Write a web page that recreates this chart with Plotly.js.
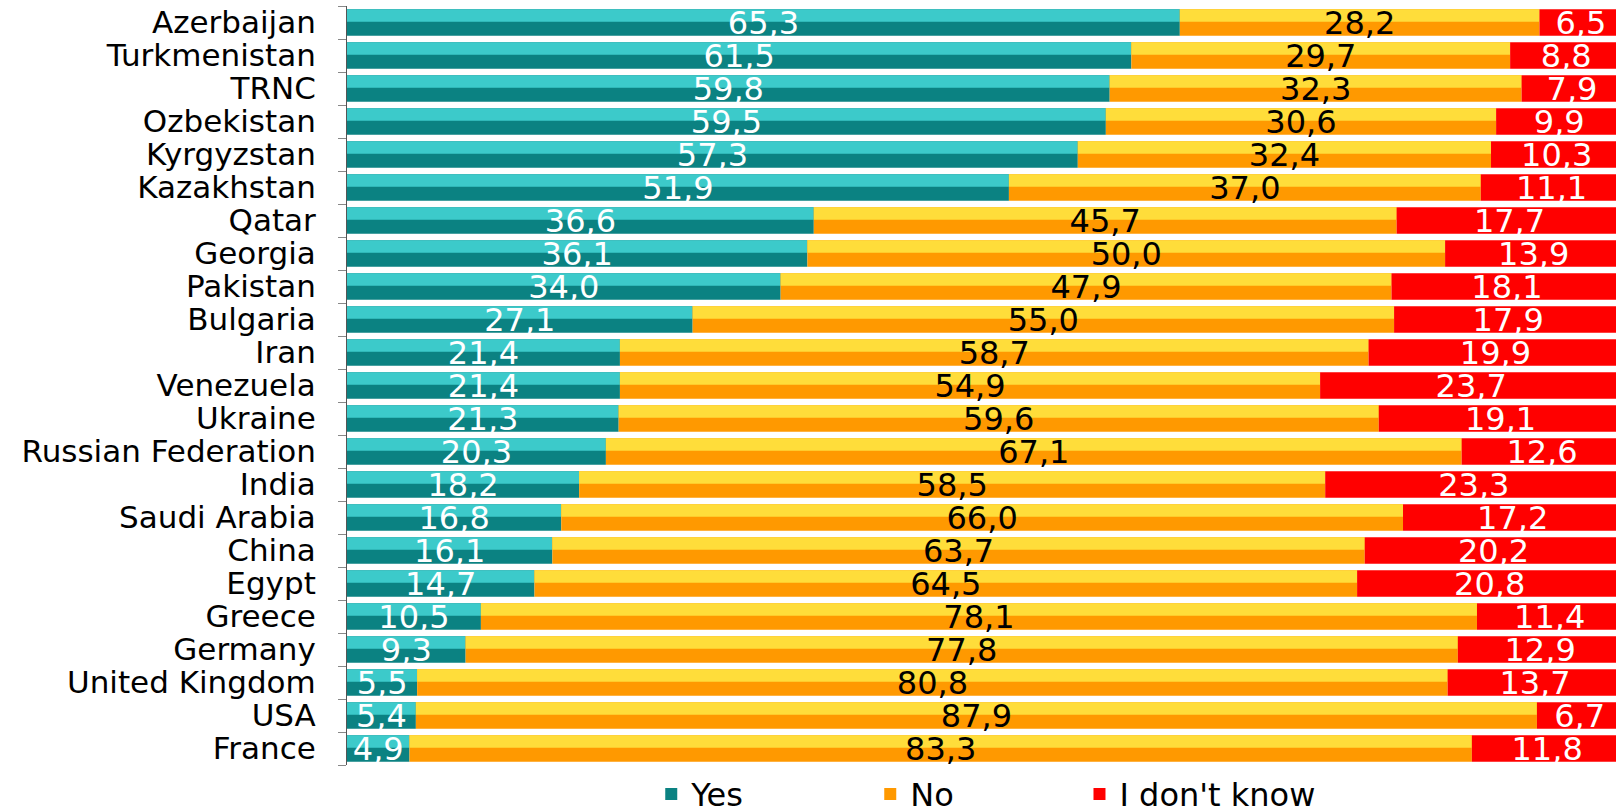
<!DOCTYPE html>
<html>
<head>
<meta charset="utf-8">
<script src="https://cdn.plot.ly/plotly-3.0.1.min.js"></script>
<style>html,body{margin:0;padding:0;background:#fff;}#chart{width:1616px;height:812px;}</style>
</head>
<body>
<div id="chart"></div>
<script>
const countries = ["Azerbaijan","Turkmenistan","TRNC","Ozbekistan","Kyrgyzstan","Kazakhstan","Qatar","Georgia","Pakistan","Bulgaria","Iran","Venezuela","Ukraine","Russian Federation","India","Saudi Arabia","China","Egypt","Greece","Germany","United Kingdom","USA","France"];
const yesVals = [65.3,61.5,59.8,59.5,57.3,51.9,36.6,36.1,34.0,27.1,21.4,21.4,21.3,20.3,18.2,16.8,16.1,14.7,10.5,9.3,5.5,5.4,4.9];
const noVals = [28.2,29.7,32.3,30.6,32.4,37.0,45.7,50.0,47.9,55.0,58.7,54.9,59.6,67.1,58.5,66.0,63.7,64.5,78.1,77.8,80.8,87.9,83.3];
const dkVals = [6.5,8.8,7.9,9.9,10.3,11.1,17.7,13.9,18.1,17.9,19.9,23.7,19.1,12.6,23.3,17.2,20.2,20.8,11.4,12.9,13.7,6.7,11.8];
const seriesNames = ["Yes","No","I don't know"];

const FONT = "DejaVu Sans, Verdana, sans-serif";
const fmt = v => v.toFixed(1).replace('.', ',');

const series = [
  {name: seriesNames[0], vals: yesVals, dark: "#0b8282", light: "#3ccaca", text: "#ffffff", legend: "legend"},
  {name: seriesNames[1], vals: noVals, dark: "#ff9900", light: "#ffdd3a", text: "#000000", legend: "legend"},
  {name: seriesNames[2], vals: dkVals, dark: "#ff0000", light: null, text: "#ffffff", legend: "legend2"}
];

const traces = [];
let base = countries.map(() => 0);
series.forEach(s => {
  const b = base.slice();
  traces.push({
    type: "bar", orientation: "h", name: s.name, y: countries, x: s.vals, base: b,
    width: 0.8, marker: {color: s.dark, line: {width: 0}}, showlegend: true, legendgroup: s.name,
    legend: s.legend, hoverinfo: "skip"
  });
  if (s.light) {
    traces.push({
      type: "bar", orientation: "h", name: s.name, y: countries, x: s.vals, base: b,
      width: 0.38, offset: -0.4, marker: {color: s.light, line: {width: 0}}, showlegend: false,
      legendgroup: s.name, hoverinfo: "skip"
    });
  }
  base = base.map((v, i) => v + s.vals[i]);
});
base = countries.map(() => 0);
series.forEach(s => {
  const b = base.slice();
  traces.push({
    type: "bar", orientation: "h", name: s.name, y: countries, x: s.vals, base: b,
    width: 0.8, marker: {color: "rgba(0,0,0,0)", line: {width: 0}}, showlegend: false,
    legendgroup: s.name, hoverinfo: "skip",
    text: s.vals.map(fmt), textposition: "inside", insidetextanchor: "middle",
    textangle: 0, constraintext: "none",
    insidetextfont: {family: FONT, size: 32, color: s.text}
  });
  base = base.map((v, i) => v + s.vals[i]);
});

const legendFont = {family: FONT, size: 32, color: "#000000"};
const layout = {
  width: 1616, height: 812,
  margin: {l: 347, r: 0, t: 6, b: 47, pad: 0, autoexpand: false},
  barmode: "overlay",
  paper_bgcolor: "#ffffff", plot_bgcolor: "#ffffff",
  font: {family: FONT, size: 32, color: "#000000"},
  xaxis: {range: [0, 99.5], visible: false, fixedrange: true},
  yaxis: {
    autorange: "reversed", type: "category",
    tickmode: "array", tickvals: countries, ticktext: countries,
    showline: true, linecolor: "#555555", linewidth: 1,
    ticks: "outside", tickson: "boundaries", ticklen: 8, tickcolor: "#888888",
    ticklabelstandoff: 24, showgrid: false, automargin: false,
    tickfont: {family: FONT, size: 31, color: "#000000"}
  },
  showlegend: true,
  legend: {
    orientation: "h", xref: "container", yref: "container",
    x: 0.403, xanchor: "left", y: 0.022, yanchor: "middle",
    font: legendFont, entrywidth: 174, entrywidthmode: "pixels", itemwidth: 30,
    traceorder: "normal", bgcolor: "rgba(0,0,0,0)"
  },
  legend2: {
    orientation: "h", xref: "container", yref: "container",
    x: 0.668, xanchor: "left", y: 0.022, yanchor: "middle",
    font: legendFont, itemwidth: 30, bgcolor: "rgba(0,0,0,0)"
  }
};

Plotly.newPlot("chart", traces, layout, {displayModeBar: false, staticPlot: true});
</script>
</body>
</html>
